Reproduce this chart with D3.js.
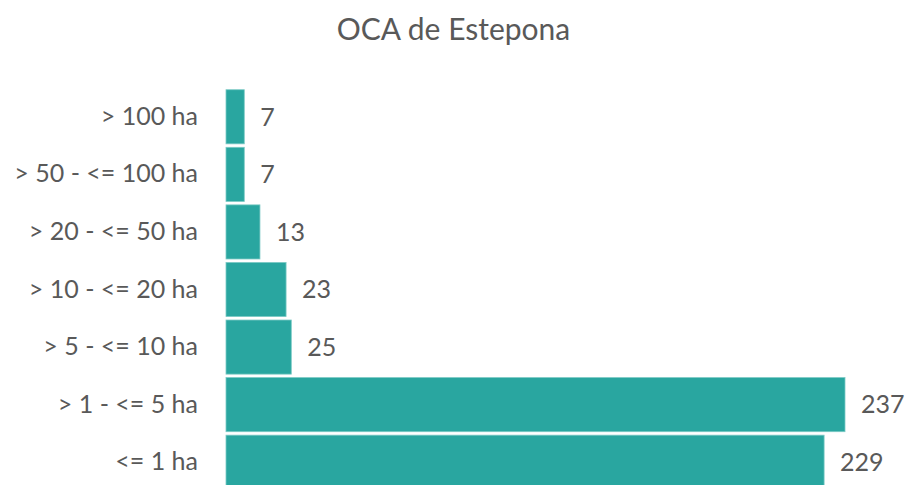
<!DOCTYPE html>
<html>
<head>
<meta charset="utf-8">
<script src="https://cdn.jsdelivr.net/npm/d3@7"></script>
<style>
  body { margin: 0; background: #fff; }
  svg text { font-family: Lato, "Open Sans", sans-serif; fill: #595959; }
</style>
</head>
<body>
<div id="chart"></div>
<script>
// data, top to bottom
var categories = ["> 100 ha", "> 50 - <= 100 ha", "> 20 - <= 50 ha", "> 10 - <= 20 ha", "> 5 - <= 10 ha", "> 1 - <= 5 ha", "<= 1 ha"];
var values = [7, 7, 13, 23, 25, 237, 229];
var title = "OCA de Estepona";

var W = 907, H = 485;
var margin = {top: 88, left: 226, right: 62, bottom: -6};

var data = categories.map(function(c, i) { return {cat: c, val: values[i]}; });

var svg = d3.select("#chart").append("svg")
    .attr("width", W)
    .attr("height", H);

svg.append("text")
    .attr("x", W / 2)
    .attr("y", 40)
    .attr("text-anchor", "middle")
    .style("font-size", "30px")
    .text(title);

var x = d3.scaleLinear()
    .domain([0, 237])
    .range([margin.left, 845]);

var y = d3.scaleBand()
    .domain(categories)
    .range([margin.top, H - margin.bottom])
    .paddingInner(0.06)
    .paddingOuter(0.03);

// category labels
var yAxis = svg.append("g")
    .attr("transform", "translate(" + margin.left + ",0)")
    .call(d3.axisLeft(y).tickSize(0).tickPadding(28));
yAxis.select(".domain").remove();
yAxis.selectAll("text")
    .style("font-size", "25px")
    .style("fill", "#595959")
    .style("font-family", "Lato, sans-serif");

svg.selectAll("rect.bar")
    .data(data)
    .enter()
    .append("rect")
    .attr("class", "bar")
    .attr("x", x(0))
    .attr("y", function(d) { return y(d.cat); })
    .attr("width", function(d) { return x(d.val) - x(0); })
    .attr("height", y.bandwidth())
    .attr("fill", "#29a6a0")
    .attr("stroke", "#7ccac5")
    .attr("stroke-width", 0.8);

svg.selectAll("text.val")
    .data(data)
    .enter()
    .append("text")
    .attr("class", "val")
    .attr("x", function(d) { return x(d.val) + 16; })
    .attr("y", function(d) { return y(d.cat) + y.bandwidth() / 2; })
    .attr("dy", "0.35em")
    .style("font-size", "25px")
    .text(function(d) { return d.val; });
</script>
</body>
</html>
